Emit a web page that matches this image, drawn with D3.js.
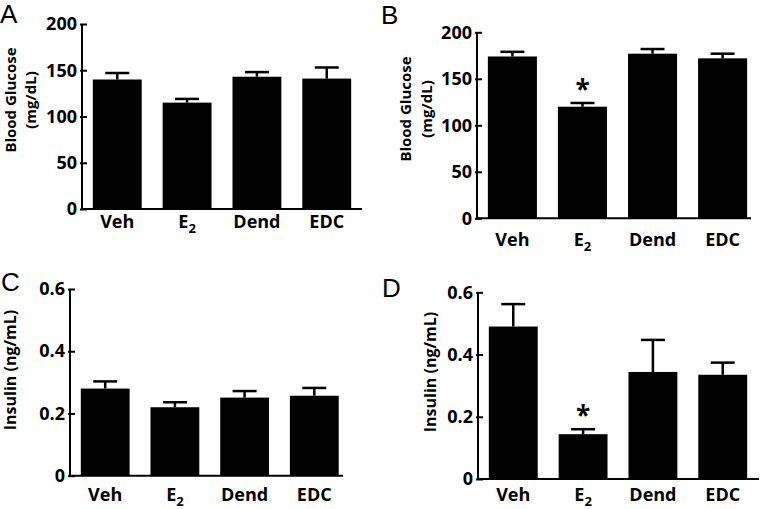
<!DOCTYPE html>
<html><head><meta charset="utf-8">
<script src="https://cdn.jsdelivr.net/npm/d3@7"></script>
<style>
body{margin:0;background:#fff;}
svg{display:block;}
text{font-family:"Open Sans",sans-serif;font-weight:bold;fill:#000;}
.plabel{font-family:"Liberation Sans",Arial,sans-serif;font-weight:normal;}
</style></head>
<body>
<svg id="chart" width="762" height="509"></svg>
<script>
// ---- data ----
const categories = ["Veh", "E2", "Dend", "EDC"];
const glucoseA = [140, 115, 143, 141];
const glucoseAErr = [7, 4, 5, 12];
const glucoseB = [174, 120, 177, 172];
const glucoseBErr = [5, 4, 5, 5];
const insulinC = [0.280, 0.220, 0.251, 0.257];
const insulinCErr = [0.023, 0.016, 0.021, 0.025];
const insulinD = [0.490, 0.144, 0.344, 0.335];
const insulinDErr = [0.072, 0.016, 0.103, 0.039];
const glucoseTicks = [0, 50, 100, 150, 200];
const insulinTicks = [0, 0.2, 0.4, 0.6];
const starsB = ["E2"];
const starsD = ["E2"];

const svg = d3.select("#chart");

const panels = [
  {letter:"A", lx:0, ly:23, vals:glucoseA, errs:glucoseAErr, ticks:glucoseTicks, max:200,
   xr:[82,362], axEnd:362, yr:[209,24], title:["Blood Glucose","(mg/dL)"], tx:[11,31], ty:100, tsize:15, labBase:228, stars:[]},
  {letter:"B", lx:381, ly:24, vals:glucoseB, errs:glucoseBErr, ticks:glucoseTicks, max:200,
   xr:[477,758], axEnd:751, yr:[218.3,32.3], title:["Blood Glucose","(mg/dL)"], tx:[406,427], ty:109, tsize:15, labBase:246, stars:starsB},
  {letter:"C", lx:1, ly:291, vals:insulinC, errs:insulinCErr, ticks:insulinTicks, max:0.6,
   xr:[70,349.5], axEnd:343, yr:[475.7,289], title:["Insulin (ng/mL)"], tx:[10], ty:370, tsize:16, labBase:501, stars:[]},
  {letter:"D", lx:382, ly:297, vals:insulinD, errs:insulinDErr, ticks:insulinTicks, max:0.6,
   xr:[478,758], axEnd:759, yr:[479,292.3], title:["Insulin (ng/mL)"], tx:[430], ty:372, tsize:16, labBase:501, stars:starsD}
];

panels.forEach(p => {
  const g = svg.append("g");
  const x = d3.scaleBand().domain(categories).range(p.xr).paddingInner(0.3).paddingOuter(0.155);
  const y = d3.scaleLinear().domain([0, p.max]).range(p.yr);
  const x0 = p.xr[0];

  // panel letter
  g.append("text").attr("class","plabel").attr("x", p.lx).attr("y", p.ly)
    .attr("font-size", 26).text(p.letter);

  // bars
  g.selectAll("rect.bar").data(categories).join("rect")
    .attr("x", d => x(d)).attr("width", x.bandwidth())
    .attr("y", (d,i) => y(p.vals[i])).attr("height", (d,i) => y(0) - y(p.vals[i]))
    .attr("fill", "#000");

  // error bars
  const cap = 24;
  categories.forEach((d,i) => {
    const cx = x(d) + x.bandwidth()/2;
    const top = y(p.vals[i] + p.errs[i]);
    g.append("line").attr("x1", cx).attr("x2", cx).attr("y1", y(p.vals[i])).attr("y2", top)
      .attr("stroke","#000").attr("stroke-width",2.5);
    g.append("line").attr("x1", cx - cap/2).attr("x2", cx + cap/2).attr("y1", top).attr("y2", top)
      .attr("stroke","#000").attr("stroke-width",2.5);
    if (p.stars.includes(d)) {
      g.append("text").attr("x", cx).attr("y", top - 4).attr("text-anchor","middle")
        .attr("font-size", 26).text("*");
    }
  });

  // y axis
  const yAxis = d3.axisLeft(y).tickValues(p.ticks).tickSize(-5).tickPadding(5)
    .tickFormat(v => v === 0 ? "0" : (p.max < 1 ? d3.format(".1f")(v) : String(v)));
  const ya = g.append("g").attr("transform", `translate(${x0},0)`).call(yAxis);
  ya.select(".domain").remove();
  ya.selectAll(".tick line").attr("x1", -2).attr("stroke","#000").attr("stroke-width",2);
  ya.selectAll(".tick text").attr("font-size", 18).attr("font-family","Open Sans").attr("font-weight","bold");
  g.append("line").attr("x1", x0).attr("x2", x0).attr("y1", y(p.max)).attr("y2", y(0) + 1)
    .attr("stroke","#000").attr("stroke-width",2);
  // x axis line
  g.append("line").attr("x1", x0).attr("x2", p.axEnd).attr("y1", y(0)).attr("y2", y(0))
    .attr("stroke","#000").attr("stroke-width",2);

  // x labels
  categories.forEach(d => {
    const cx = x(d) + x.bandwidth()/2;
    const t = g.append("text").attr("x", cx).attr("y", p.labBase).attr("text-anchor","middle")
      .attr("font-size", 18);
    if (d === "E2") {
      t.append("tspan").text("E");
      t.append("tspan").attr("dy", 5).attr("font-size", 13).text("2");
    } else t.text(d);
  });

  // y title
  p.title.forEach((s, k) => {
    g.append("text").attr("transform", `translate(${p.tx[k] + p.tsize*0.36},${p.ty}) rotate(-90)`)
      .attr("text-anchor","middle").attr("font-size", p.tsize).text(s);
  });
});
</script>
</body></html>
